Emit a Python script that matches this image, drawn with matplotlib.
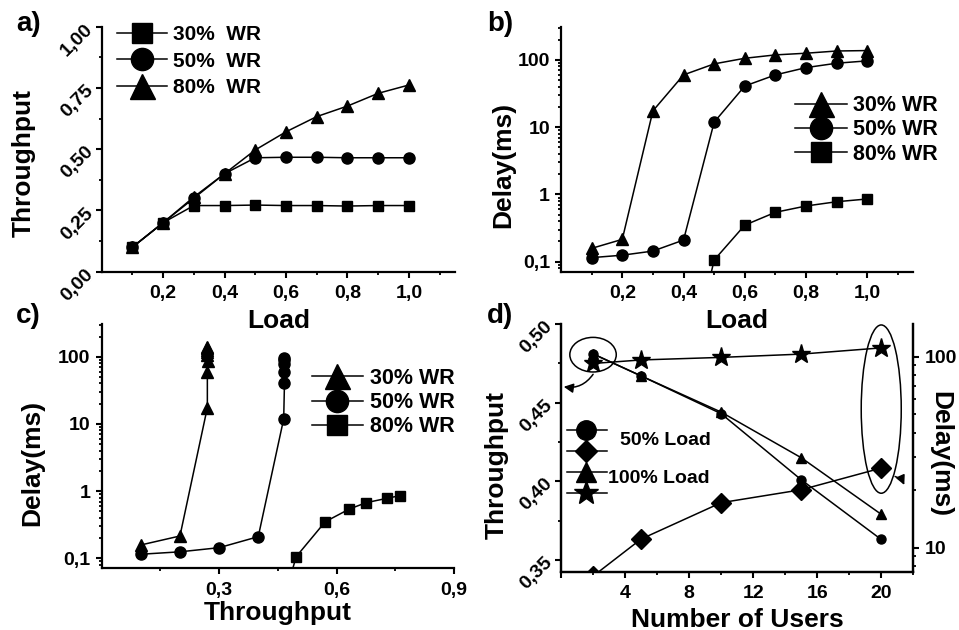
import matplotlib
matplotlib.use("Agg")
import matplotlib.pyplot as plt
from matplotlib.patches import Ellipse
from matplotlib.ticker import MultipleLocator, FuncFormatter, LogLocator, NullFormatter, FixedLocator

plt.rcParams['font.family'] = ['Liberation Sans', 'DejaVu Sans']
plt.rcParams['font.weight'] = 'bold'
plt.rcParams['axes.labelweight'] = 'bold'
plt.rcParams['axes.linewidth'] = 1.6
plt.rcParams['xtick.major.width'] = 1.5
plt.rcParams['ytick.major.width'] = 1.5
plt.rcParams['xtick.minor.width'] = 1.3
plt.rcParams['ytick.minor.width'] = 1.3
plt.rcParams['xtick.major.size'] = 4.5
plt.rcParams['ytick.major.size'] = 4.5
plt.rcParams['xtick.minor.size'] = 2.5
plt.rcParams['ytick.minor.size'] = 2.5

# offered load for panels a, b
load = [0.1, 0.2, 0.3, 0.4, 0.5, 0.6, 0.7, 0.8, 0.9, 1.0]

# throughput vs load (a)
thr_sq = [0.10, 0.20, 0.27, 0.27, 0.272, 0.27, 0.27, 0.268, 0.27, 0.27]
thr_ci = [0.10, 0.20, 0.30, 0.40, 0.465, 0.467, 0.467, 0.465, 0.465, 0.465]
thr_tr = [0.10, 0.20, 0.305, 0.40, 0.497, 0.571, 0.633, 0.676, 0.728, 0.762]

# delay (ms) vs load (b)
dly_tr = [0.158, 0.215, 17.5, 60, 87.5, 106, 119, 126, 136, 138]
dly_ci = [0.115, 0.125, 0.144, 0.21, 11.9, 41, 60, 77, 89.5, 97]
dly_sq = [0.0012, 0.106, 0.35, 0.543, 0.674, 0.78, 0.857]   # from load 0.4 on
sq_start = 3

# number of users (d)
users = [2, 5, 10, 15, 20]
thr_50 = [0.481, 0.467, 0.443, 0.401, 0.363]
thr_100 = [0.481, 0.467, 0.444, 0.415, 0.379]
dly_50 = [7.1, 11.1, 17.2, 20.1, 26.1]
dly_100 = [92, 96, 99, 103, 111]

LW = 1.1
TICK_FS = 14
LAB_FS = 19


def comma(fmt):
    return FuncFormatter(lambda v, p: (fmt % v).replace('.', ','))


def log_fmt(v, p):
    return ('%g' % v).replace('.', ',')


def style_log_y(ax):
    ax.set_yscale('log')
    ax.yaxis.set_major_locator(LogLocator(base=10, numticks=10))
    ax.yaxis.set_minor_locator(LogLocator(base=10, subs=range(2, 10), numticks=20))
    ax.yaxis.set_major_formatter(FuncFormatter(log_fmt))
    ax.yaxis.set_minor_formatter(NullFormatter())


def style_common(ax):
    ax.spines['top'].set_visible(False)
    ax.spines['right'].set_visible(False)
    ax.tick_params(which='both', direction='out', labelsize=TICK_FS)
    ax.tick_params(axis='x', which='major', pad=5)


def load_axis(ax):
    ax.set_xlim(0, 1.15)
    ax.xaxis.set_major_locator(FixedLocator([0.2, 0.4, 0.6, 0.8, 1.0]))
    ax.xaxis.set_minor_locator(FixedLocator([0.1, 0.3, 0.5, 0.7, 0.9, 1.1]))
    ax.xaxis.set_major_formatter(comma('%.1f'))
    ax.set_xlabel('Load', fontsize=LAB_FS)


def rotate_yticks(ax):
    for t in ax.get_yticklabels():
        t.set_rotation(45)
        t.set_rotation_mode('anchor')
        t.set_ha('right')
        t.set_va('center')


leg_kw = dict(loc='upper left', frameon=False, markerscale=2.0, handlelength=2.4,
              handletextpad=0.3, borderpad=0, borderaxespad=0)

fig = plt.figure(figsize=(9.59, 6.30), dpi=100)
ax_a = fig.add_axes([0.106, 0.5687, 0.3685, 0.389])
ax_b = fig.add_axes([0.585, 0.5687, 0.3673, 0.389])
ax_c = fig.add_axes([0.106, 0.0979, 0.3674, 0.3878])
ax_d = fig.add_axes([0.585, 0.0925, 0.3673, 0.3932])
# lower panels are transparent so the "Load" labels above stay readable
ax_c.patch.set_visible(False)
ax_d.patch.set_visible(False)

mk = dict(color='black', lw=LW, mfc='black', mec='black')

# ---- a) throughput vs load
ax_a.plot(load, thr_sq, marker='s', ms=7.5, label='30%  WR', **mk)
ax_a.plot(load, thr_ci, marker='o', ms=8, label='50%  WR', **mk)
ax_a.plot(load, thr_tr, marker='^', ms=9, label='80%  WR', **mk)
style_common(ax_a)
load_axis(ax_a)
ax_a.set_ylim(0, 1.0)
ax_a.yaxis.set_major_locator(MultipleLocator(0.25))
ax_a.yaxis.set_minor_locator(MultipleLocator(0.125))
ax_a.yaxis.set_major_formatter(comma('%.2f'))
rotate_yticks(ax_a)
ax_a.set_ylabel('Throughput', fontsize=LAB_FS)
ax_a.yaxis.set_label_coords(-0.186, 0.444)
ax_a.xaxis.set_label_coords(0.5, -0.152)
ax_a.legend(bbox_to_anchor=(0.043, 1.005), fontsize=15, labelspacing=0.35, **leg_kw)

# ---- b) delay vs load
ax_b.plot(load, dly_tr, marker='^', ms=9, label='30% WR', **mk)
ax_b.plot(load, dly_ci, marker='o', ms=8, label='50% WR', **mk)
ax_b.plot(load[sq_start:], dly_sq, marker='s', ms=7.5, label='80% WR', **mk)
style_common(ax_b)
load_axis(ax_b)
style_log_y(ax_b)
ax_b.set_ylim(0.071, 313)
ax_b.set_ylabel('Delay(ms)', fontsize=LAB_FS)
ax_b.yaxis.set_label_coords(-0.131, 0.435)
ax_b.xaxis.set_label_coords(0.5, -0.152)
ax_b.legend(bbox_to_anchor=(0.664, 0.72), fontsize=15.5, labelspacing=0.15, **leg_kw)

# ---- c) delay vs throughput
ax_c.plot(thr_sq, dly_tr, marker='^', ms=9, label='30% WR', **mk)
ax_c.plot(thr_ci, dly_ci, marker='o', ms=8, label='50% WR', **mk)
ax_c.plot(thr_tr[sq_start:], dly_sq, marker='s', ms=7.5, label='80% WR', **mk)
style_common(ax_c)
style_log_y(ax_c)
ax_c.set_ylim(0.071, 307)
ax_c.set_xlim(0, 0.9)
ax_c.xaxis.set_major_locator(FixedLocator([0.3, 0.6, 0.9]))
ax_c.xaxis.set_minor_locator(FixedLocator([0.15, 0.45, 0.75]))
ax_c.xaxis.set_major_formatter(comma('%.1f'))
ax_c.set_xlabel('Throughput', fontsize=LAB_FS)
ax_c.xaxis.set_label_coords(0.5, -0.132)
ax_c.set_ylabel('Delay(ms)', fontsize=LAB_FS)
ax_c.yaxis.set_label_coords(-0.164, 0.433)
ax_c.legend(bbox_to_anchor=(0.596, 0.82), fontsize=15.5, labelspacing=0.15, **leg_kw)

# ---- d) number of users, throughput (left) and delay (right)
ax_r = ax_d.twinx()
ax_r.patch.set_visible(False)
ax_d.plot(users, thr_50, marker='o', ms=6.5, zorder=3, **mk)
ax_d.plot(users, thr_100, marker='^', ms=7.5, zorder=3, **mk)
ax_r.plot(users, dly_50, marker='D', ms=10, **mk)
ax_r.plot(users, dly_100, marker='*', ms=14, **mk)

ax_d.spines['top'].set_visible(False)
ax_r.spines['top'].set_visible(False)
ax_d.set_xlim(0, 22)
ax_d.xaxis.set_major_locator(MultipleLocator(4))
ax_d.xaxis.set_minor_locator(MultipleLocator(2))
ax_d.xaxis.set_major_formatter(FuncFormatter(lambda v, p: '' if v == 0 else '%d' % v))
ax_d.set_ylim(0.3425, 0.50)
ax_d.yaxis.set_major_locator(MultipleLocator(0.05))
ax_d.yaxis.set_minor_locator(MultipleLocator(0.025))
ax_d.yaxis.set_major_formatter(comma('%.2f'))
ax_d.tick_params(which='both', direction='out', labelsize=TICK_FS)
ax_d.tick_params(axis='x', which='major', pad=5)
rotate_yticks(ax_d)
ax_d.set_xlabel('Number of Users', fontsize=LAB_FS)
ax_d.xaxis.set_label_coords(0.5, -0.146)
ax_d.set_ylabel('Throughput', fontsize=LAB_FS)
ax_d.yaxis.set_label_coords(-0.148, 0.43)

style_log_y(ax_r)
ax_r.set_ylim(7.49, 148)
ax_r.tick_params(which='both', direction='out', labelsize=TICK_FS)
ax_r.set_ylabel('Delay(ms)', fontsize=LAB_FS, rotation=270, va='bottom')
ax_r.yaxis.set_label_coords(1.042, 0.475)

# circled groups with arrows pointing to the matching axis
ax_d.add_patch(Ellipse((users[0], 0.4805), 2.9, 0.022, fill=False, lw=1.1, ec='black', zorder=4))
ax_d.add_patch(Ellipse((users[-1], 0.4459), 2.5, 0.107, fill=False, lw=1.1, ec='black', zorder=4))
ax_d.annotate('', xy=(0.0, 0.4604), xytext=(2.1, 0.4695),
              arrowprops=dict(arrowstyle='-|>', color='black', lw=1.1,
                              mutation_scale=14, connectionstyle='arc3,rad=-0.35'),
              annotation_clip=False, zorder=5)
ax_d.annotate('', xy=(21.5, 0.396), xytext=(20.7, 0.4035),
              arrowprops=dict(arrowstyle='-|>', color='black', lw=1.1,
                              mutation_scale=14, connectionstyle='arc3,rad=-0.3'),
              annotation_clip=False, zorder=5)

# legend of panel d, drawn by hand in axes fraction
tr = ax_d.transAxes
hx = [0.016, 0.130]
for yy, m, s in [(0.572, 'o', 14), (0.487, 'D', 11.5), (0.401, '^', 14), (0.319, '*', 18)]:
    ax_d.plot(hx, [yy, yy], color='black', lw=LW, transform=tr, clip_on=False)
    ax_d.plot([0.071], [yy], marker=m, ms=s, color='black', transform=tr, clip_on=False)
ax_d.text(0.167, 0.529, '50% Load', transform=tr, fontsize=14, va='center', ha='left')
ax_d.text(0.134, 0.377, '100% Load', transform=tr, fontsize=14, va='center', ha='left')

# panel letters
for x, y, s in [(0.017, 0.951, 'a)'), (0.508, 0.951, 'b)'), (0.017, 0.487, 'c)'), (0.508, 0.487, 'd)')]:
    fig.text(x, y, s, fontsize=20, ha='left', va='baseline')

fig.savefig('out.png', dpi=100)
